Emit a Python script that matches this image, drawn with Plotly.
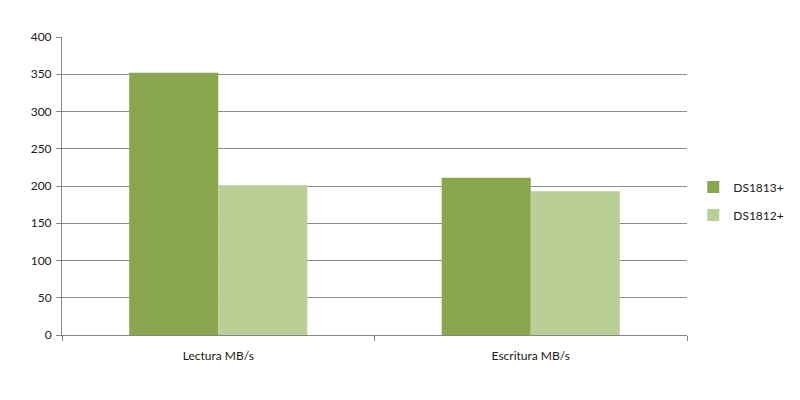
import plotly.graph_objects as go

categories = ["Lectura MB/s", "Escritura MB/s"]
series_names = ["DS1813+", "DS1812+"]
ds1813 = [352, 211]
ds1812 = [201, 193]
y_ticks = [0, 50, 100, 150, 200, 250, 300, 350, 400]

colors = ["#89A54E", "#B9CF96"]
font = "Lato, 'Open Sans', sans-serif"

fig = go.Figure()
for name, vals, c in zip(series_names, [ds1813, ds1812], colors):
    fig.add_trace(go.Bar(x=categories, y=vals, name=name, legendgroup=name,
                         marker=dict(color=c, line=dict(width=0))))

fig.update_layout(
    width=800, height=400,
    margin=dict(l=62, r=113, t=37, b=65, autoexpand=False),
    paper_bgcolor="white", plot_bgcolor="white",
    barmode="group", bargap=0.43, bargroupgap=0,
    font=dict(family=font, size=11, color="#404040"),
    showlegend=True,
    legend=dict(x=1.01, y=0.45, xanchor="left", yanchor="middle",
                font=dict(size=12, color="#202020"), itemwidth=30,
                tracegroupgap=9, traceorder="grouped"),
    xaxis=dict(showline=True, linecolor="#868686", linewidth=1,
               ticks="outside", tickson="boundaries", ticklen=5, tickcolor="#868686",
               ticklabelstandoff=10,
               showgrid=False, tickfont=dict(size=12, color="#202020")),
    yaxis=dict(range=[0, 400], tickvals=y_ticks, showline=True, linecolor="#868686",
               linewidth=1, ticks="outside", ticklen=5, tickcolor="#868686",
               showgrid=True, gridcolor="#8C8C8C", gridwidth=1, zeroline=False,
               ticklabelstandoff=2,
               tickfont=dict(size=12, color="#202020")),
)
fig.write_html("out.html")
